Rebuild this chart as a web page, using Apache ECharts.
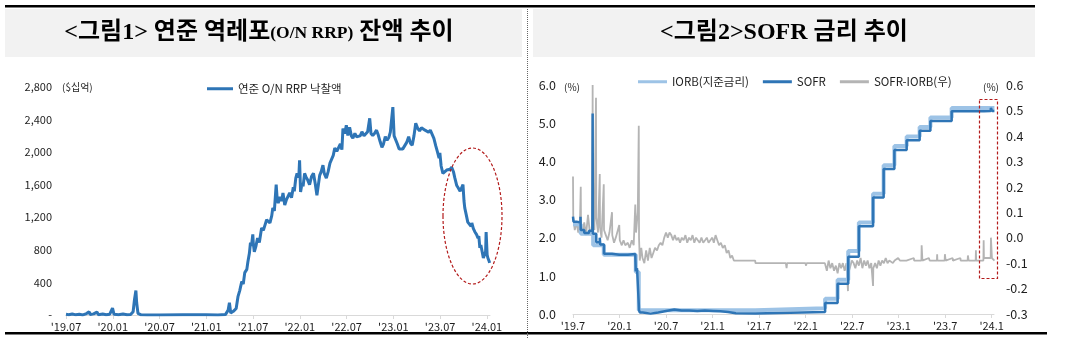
<!DOCTYPE html>
<html>
<head>
<meta charset="utf-8">
<script src="https://cdn.jsdelivr.net/npm/echarts@6/dist/echarts.min.js"></script>
<style>
  html, body { margin: 0; padding: 0; background: #fff; }
  #main { width: 1071px; height: 343px; }
</style>
</head>
<body>
<div id="main"></div>
<script>
// ---- Panel 1: Fed O/N RRP balance ($ billion) ----
const rrpTickLabels = ["'19.07", "'20.01", "'20.07", "'21.01", "'21.07", "'22.01", "'22.07", "'23.01", "'23.07", "'24.01"];
const rrp = [
  ['2019-07-01', 8], ['2019-07-12', 3], ['2019-07-26', 12], ['2019-08-09', 2], ['2019-08-23', 9],
  ['2019-09-06', 1], ['2019-09-20', 18], ['2019-09-30', 40], ['2019-10-04', 6], ['2019-10-18', 14],
  ['2019-10-31', 35], ['2019-11-06', 4], ['2019-11-22', 12], ['2019-12-06', 3], ['2019-12-20', 10],
  ['2019-12-31', 85], ['2020-01-06', 8], ['2020-01-24', 4], ['2020-02-10', 12], ['2020-02-25', 3],
  ['2020-03-10', 6], ['2020-03-20', 40], ['2020-03-25', 180], ['2020-03-31', 300], ['2020-04-03', 150],
  ['2020-04-08', 20], ['2020-04-20', 2], ['2020-05-15', 0], ['2020-07-01', 1], ['2020-09-30', 2],
  ['2020-12-31', 3], ['2021-02-15', 1], ['2021-03-15', 5], ['2021-03-26', 60], ['2021-03-31', 150],
  ['2021-04-05', 25], ['2021-04-15', 45], ['2021-04-26', 80], ['2021-05-03', 225], ['2021-05-10', 300],
  ['2021-05-18', 410], ['2021-05-24', 380], ['2021-05-30', 520], ['2021-06-07', 560], ['2021-06-11', 650],
  ['2021-06-17', 760], ['2021-06-21', 890], ['2021-06-25', 850], ['2021-06-30', 990], ['2021-07-02', 880],
  ['2021-07-06', 775], ['2021-07-12', 840], ['2021-07-19', 945], ['2021-07-26', 890], ['2021-08-04', 1070],
  ['2021-08-11', 1040], ['2021-08-18', 1110], ['2021-08-24', 1170], ['2021-08-31', 1190], ['2021-09-06', 1130],
  ['2021-09-13', 1220], ['2021-09-17', 1315], ['2021-09-23', 1280], ['2021-09-30', 1600], ['2021-10-04', 1420],
  ['2021-10-08', 1375], ['2021-10-15', 1450], ['2021-10-22', 1400], ['2021-10-27', 1500], ['2021-11-03', 1350],
  ['2021-11-10', 1420], ['2021-11-16', 1460], ['2021-11-22', 1500], ['2021-11-29', 1440], ['2021-12-06', 1570],
  ['2021-12-10', 1520], ['2021-12-16', 1680], ['2021-12-21', 1740], ['2021-12-28', 1690], ['2021-12-31', 1900],
  ['2022-01-04', 1510], ['2022-01-10', 1620], ['2022-01-14', 1580], ['2022-01-20', 1740], ['2022-01-26', 1690],
  ['2022-02-01', 1660], ['2022-02-08', 1600], ['2022-02-15', 1700], ['2022-02-22', 1740], ['2022-02-28', 1620],
  ['2022-03-07', 1470], ['2022-03-11', 1560], ['2022-03-18', 1715], ['2022-03-24', 1760], ['2022-03-31', 1840],
  ['2022-04-05', 1740], ['2022-04-13', 1680], ['2022-04-20', 1760], ['2022-04-27', 1865], ['2022-05-04', 1880],
  ['2022-05-10', 1960], ['2022-05-16', 2050], ['2022-05-24', 2010], ['2022-05-31', 2000], ['2022-06-07', 2100],
  ['2022-06-13', 2030], ['2022-06-17', 2290], ['2022-06-24', 2230], ['2022-06-30', 2330], ['2022-07-06', 2205],
  ['2022-07-13', 2305], ['2022-07-20', 2200], ['2022-07-26', 2170], ['2022-08-03', 2230], ['2022-08-10', 2190],
  ['2022-08-17', 2205], ['2022-08-24', 2200], ['2022-08-31', 2250], ['2022-09-08', 2200], ['2022-09-15', 2185],
  ['2022-09-22', 2250], ['2022-09-30', 2415], ['2022-10-05', 2230], ['2022-10-12', 2205], ['2022-10-19', 2230],
  ['2022-10-27', 2270], ['2022-11-03', 2210], ['2022-11-10', 2130], ['2022-11-17', 2060], ['2022-11-23', 2100],
  ['2022-11-30', 2190], ['2022-12-07', 2145], ['2022-12-14', 2180], ['2022-12-20', 2245], ['2022-12-30', 2554],
  ['2023-01-04', 2200], ['2023-01-10', 2185], ['2023-01-17', 2100], ['2023-01-24', 2040], ['2023-01-31', 2060],
  ['2023-02-07', 2040], ['2023-02-14', 2060], ['2023-02-21', 2120], ['2023-02-28', 2190], ['2023-03-07', 2110],
  ['2023-03-14', 2085], ['2023-03-21', 2200], ['2023-03-28', 2355], ['2023-03-31', 2375], ['2023-04-05', 2290],
  ['2023-04-12', 2260], ['2023-04-19', 2300], ['2023-04-26', 2305], ['2023-05-03', 2270], ['2023-05-10', 2250],
  ['2023-05-17', 2245], ['2023-05-24', 2270], ['2023-05-31', 2250], ['2023-06-07', 2170], ['2023-06-14', 2080],
  ['2023-06-21', 2000], ['2023-06-27', 1925], ['2023-06-30', 1990], ['2023-07-05', 1830], ['2023-07-12', 1740],
  ['2023-07-19', 1760], ['2023-07-27', 1780], ['2023-08-03', 1800], ['2023-08-10', 1790], ['2023-08-16', 1815],
  ['2023-08-23', 1760], ['2023-08-28', 1690], ['2023-09-05', 1590], ['2023-09-11', 1560], ['2023-09-18', 1520],
  ['2023-09-25', 1535], ['2023-09-29', 1600], ['2023-10-03', 1400], ['2023-10-06', 1315], ['2023-10-12', 1230],
  ['2023-10-18', 1140], ['2023-10-25', 1150], ['2023-10-31', 1090], ['2023-11-03', 1130], ['2023-11-09', 1060],
  ['2023-11-15', 1020], ['2023-11-21', 990], ['2023-11-27', 945], ['2023-11-30', 970], ['2023-12-04', 825],
  ['2023-12-08', 860], ['2023-12-13', 780], ['2023-12-18', 700], ['2023-12-22', 720], ['2023-12-27', 780],
  ['2023-12-29', 1020], ['2024-01-02', 740], ['2024-01-05', 700], ['2024-01-10', 660], ['2024-01-12', 640]
];

// ---- Panel 2: SOFR, IORB (%) and SOFR-IORB spread (%p, right axis) ----
const sofrTickLabels = ["'19.7", "'20.1", "'20.7", "'21.1", "'21.7", "'22.1", "'22.7", "'23.1", "'23.7", "'24.1"];
const iorb = [
  ['2019-07-01', 2.35], ['2019-08-01', 2.10], ['2019-09-19', 1.80], ['2019-10-31', 1.55], ['2020-03-04', 1.10],
  ['2020-03-16', 0.10], ['2021-06-17', 0.15], ['2022-03-17', 0.40], ['2022-05-05', 0.90], ['2022-06-16', 1.65],
  ['2022-07-28', 2.40], ['2022-09-22', 3.15], ['2022-11-03', 3.90], ['2022-12-15', 4.40], ['2023-02-02', 4.65],
  ['2023-03-23', 4.90], ['2023-05-04', 5.15], ['2023-07-27', 5.40], ['2024-01-12', 5.40]
];
const sofr = [
  ['2019-07-01', 2.55], ['2019-07-03', 2.42], ['2019-07-15', 2.40], ['2019-07-31', 2.55], ['2019-08-01', 2.20],
  ['2019-08-15', 2.12], ['2019-09-03', 2.18], ['2019-09-16', 2.43], ['2019-09-17', 5.25], ['2019-09-18', 2.10],
  ['2019-10-01', 1.88], ['2019-10-15', 2.00], ['2019-10-17', 1.82], ['2019-11-01', 1.58], ['2019-12-02', 1.55],
  ['2019-12-31', 1.60], ['2020-01-02', 1.55], ['2020-02-03', 1.57], ['2020-03-02', 1.60], ['2020-03-04', 1.12],
  ['2020-03-09', 1.20], ['2020-03-16', 0.26], ['2020-03-17', 0.10], ['2020-03-20', 0.04], ['2020-04-01', 0.01],
  ['2020-05-01', 0.04], ['2020-06-01', 0.08], ['2020-07-01', 0.12], ['2020-08-03', 0.09], ['2020-09-01', 0.09],
  ['2020-10-01', 0.08], ['2020-11-02', 0.09], ['2020-12-01', 0.08], ['2021-01-04', 0.07], ['2021-02-01', 0.05],
  ['2021-03-01', 0.02], ['2021-04-01', 0.01], ['2021-06-17', 0.05], ['2022-03-17', 0.29], ['2022-05-05', 0.79],
  ['2022-06-16', 1.50], ['2022-07-28', 2.30], ['2022-09-22', 3.05], ['2022-11-03', 3.80], ['2022-12-15', 4.30],
  ['2023-02-02', 4.55], ['2023-03-23', 4.80], ['2023-05-04', 5.06], ['2023-07-27', 5.31], ['2023-12-01', 5.32],
  ['2023-12-28', 5.31], ['2023-12-29', 5.40], ['2024-01-02', 5.32], ['2024-01-12', 5.31]
];
const spread = [
  ['2019-07-01', 0.24], ['2019-07-02', 0.08], ['2019-07-08', 0.03], ['2019-07-15', 0.06], ['2019-07-22', 0.02],
  ['2019-07-29', 0.07], ['2019-08-01', 0.20], ['2019-08-02', 0.05], ['2019-08-08', 0.02], ['2019-08-15', 0.06],
  ['2019-08-22', 0.01], ['2019-08-30', 0.09], ['2019-09-05', 0.03], ['2019-09-12', 0.01], ['2019-09-16', 0.08],
  ['2019-09-17', 0.60], ['2019-09-18', 0.10], ['2019-09-24', 0.03], ['2019-09-30', 0.55], ['2019-10-01', 0.08],
  ['2019-10-08', 0.02], ['2019-10-15', 0.25], ['2019-10-16', 0.04], ['2019-10-22', 0.00], ['2019-10-31', 0.21],
  ['2019-11-01', 0.03], ['2019-11-08', 0.01], ['2019-11-15', -0.01], ['2019-11-22', 0.02], ['2019-12-02', 0.10],
  ['2019-12-03', 0.01], ['2019-12-10', -0.02], ['2019-12-17', 0.00], ['2019-12-31', 0.05], ['2020-01-02', -0.01],
  ['2020-01-10', -0.03], ['2020-01-17', -0.01], ['2020-01-24', -0.03], ['2020-02-03', -0.02], ['2020-02-10', -0.04],
  ['2020-02-18', -0.01], ['2020-02-25', -0.03], ['2020-03-02', 0.13], ['2020-03-05', 0.02], ['2020-03-12', 0.10],
  ['2020-03-16', 0.44], ['2020-03-17', 0.00], ['2020-03-20', -0.09], ['2020-03-26', -0.04], ['2020-03-31', -0.08],
  ['2020-04-07', -0.10], ['2020-04-14', -0.05], ['2020-04-21', -0.09], ['2020-04-28', -0.04], ['2020-05-05', -0.08],
  ['2020-05-12', -0.06], ['2020-05-19', -0.04], ['2020-05-27', -0.05], ['2020-06-03', -0.03], ['2020-06-10', -0.02],
  ['2020-06-17', -0.03], ['2020-06-24', 0.00], ['2020-07-01', 0.02], ['2020-07-08', 0.00], ['2020-07-15', 0.02],
  ['2020-07-22', 0.01], ['2020-07-29', -0.01], ['2020-08-05', 0.01], ['2020-08-12', -0.01], ['2020-08-19', 0.00],
  ['2020-08-26', -0.02], ['2020-09-02', 0.00], ['2020-09-09', -0.01], ['2020-09-16', 0.01], ['2020-09-23', -0.02],
  ['2020-09-30', 0.00], ['2020-10-07', -0.01], ['2020-10-14', 0.01], ['2020-10-21', -0.02], ['2020-10-28', 0.00],
  ['2020-11-04', -0.01], ['2020-11-11', -0.02], ['2020-11-18', 0.00], ['2020-11-25', -0.02], ['2020-12-02', -0.01],
  ['2020-12-09', 0.00], ['2020-12-16', -0.02], ['2020-12-23', -0.01], ['2020-12-31', 0.00], ['2021-01-06', -0.02],
  ['2021-01-13', 0.01], ['2021-01-20', -0.01], ['2021-01-27', -0.03], ['2021-02-03', -0.02], ['2021-02-10', -0.04],
  ['2021-02-17', -0.03], ['2021-02-24', -0.06], ['2021-03-03', -0.05], ['2021-03-10', -0.08], ['2021-03-17', -0.07],
  ['2021-03-24', -0.09], ['2021-06-16', -0.09], ['2021-06-17', -0.10], ['2021-10-15', -0.10], ['2021-10-18', -0.12],
  ['2021-10-20', -0.10], ['2021-12-31', -0.10], ['2022-01-03', -0.11], ['2022-01-05', -0.10], ['2022-03-16', -0.10],
  ['2022-03-24', -0.13], ['2022-03-31', -0.09], ['2022-04-07', -0.12], ['2022-04-14', -0.10], ['2022-04-21', -0.13],
  ['2022-04-28', -0.11], ['2022-05-05', -0.14], ['2022-05-12', -0.10], ['2022-05-19', -0.12], ['2022-05-26', -0.10],
  ['2022-06-02', -0.13], ['2022-06-09', -0.10], ['2022-06-15', -0.21], ['2022-06-16', -0.14], ['2022-06-22', -0.12],
  ['2022-06-30', -0.09], ['2022-07-07', -0.10], ['2022-07-14', -0.12], ['2022-07-21', -0.09], ['2022-07-28', -0.11],
  ['2022-08-04', -0.08], ['2022-08-11', -0.12], ['2022-08-18', -0.09], ['2022-08-25', -0.11], ['2022-09-01', -0.09],
  ['2022-09-08', -0.12], ['2022-09-15', -0.10], ['2022-09-22', -0.19], ['2022-09-23', -0.12], ['2022-09-30', -0.10],
  ['2022-10-07', -0.12], ['2022-10-14', -0.09], ['2022-10-21', -0.11], ['2022-10-28', -0.09], ['2022-11-04', -0.10],
  ['2022-11-11', -0.08], ['2022-11-18', -0.10], ['2022-11-25', -0.09], ['2022-12-02', -0.09], ['2022-12-09', -0.10],
  ['2022-12-16', -0.09], ['2022-12-30', -0.08], ['2023-01-06', -0.09], ['2023-02-01', -0.09], ['2023-02-28', -0.08],
  ['2023-03-01', -0.09], ['2023-03-30', -0.09], ['2023-03-31', -0.03], ['2023-04-03', -0.09], ['2023-04-28', -0.08],
  ['2023-05-01', -0.09], ['2023-05-30', -0.09], ['2023-05-31', -0.065], ['2023-06-01', -0.09], ['2023-06-29', -0.09],
  ['2023-06-30', -0.065], ['2023-07-03', -0.09], ['2023-07-31', -0.08], ['2023-08-01', -0.09], ['2023-08-31', -0.08],
  ['2023-09-01', -0.09], ['2023-09-28', -0.09], ['2023-09-29', -0.07], ['2023-10-02', -0.09], ['2023-10-30', -0.09],
  ['2023-10-31', -0.05], ['2023-11-01', -0.09], ['2023-11-29', -0.09], ['2023-11-30', -0.01], ['2023-12-01', -0.08],
  ['2023-12-28', -0.08], ['2023-12-29', 0.00], ['2024-01-02', -0.08], ['2024-01-12', -0.09]
];

// date string -> months elapsed since 2019-07-01 (fractional)
function toMonths(s) {
  const [y, m, d] = s.split('-').map(Number);
  const dim = new Date(y, m, 0).getDate();
  return (y - 2019) * 12 + (m - 7) + (d - 1) / dim;
}
const toXY = arr => arr.map(([d, v]) => [toMonths(d), v]);
const tickPos = rrpTickLabels.map((_, i) => i * 6);

const FONT = "'Noto Sans CJK KR', 'Noto Sans', sans-serif";
const TITLE_FONT = "'Liberation Serif', 'Noto Sans CJK KR', serif";
const TXT = '#1e1e1e';
const AXIS_GRAY = '#d9d9d9';

function monthAxis(gridIndex, max, labels) {
  return {
    type: 'value', gridIndex, min: 0, max, interval: 6,
    axisLine: { show: true, lineStyle: { color: AXIS_GRAY, width: 1 } },
    axisTick: { show: true, length: 4, customValues: tickPos, lineStyle: { color: AXIS_GRAY } },
    axisLabel: {
      customValues: tickPos, margin: 6, fontSize: 11, color: TXT, fontFamily: FONT,
      formatter: v => { const i = Math.round(v / 6); return Math.abs(v - i * 6) < 1e-6 ? (labels[i] || '') : ''; }
    },
    splitLine: { show: false }
  };
}
const fmt1 = v => (Math.abs(v) < 1e-9 ? '0.0' : v.toFixed(1));

const option = {
  animation: false,
  backgroundColor: '#fff',
  grid: [
    { left: 66, top: 87, width: 424, height: 228 },
    { left: 573, top: 85, width: 421, height: 229 }
  ],
  xAxis: [
    monthAxis(0, 54.4, rrpTickLabels),
    monthAxis(1, 54.3, sofrTickLabels)
  ],
  yAxis: [
    {
      type: 'value', gridIndex: 0, min: 0, max: 2800, interval: 400,
      axisLine: { show: false }, axisTick: { show: false }, splitLine: { show: false },
      axisLabel: { margin: 14, fontSize: 11, color: TXT, fontFamily: FONT,
        formatter: v => (v === 0 ? '-' : v.toLocaleString('en-US')) }
    },
    {
      type: 'value', gridIndex: 1, position: 'left', min: 0, max: 6, interval: 1,
      axisLine: { show: false }, axisTick: { show: false }, splitLine: { show: false },
      axisLabel: { margin: 17, fontSize: 12.5, color: TXT, fontFamily: FONT, formatter: fmt1 }
    },
    {
      type: 'value', gridIndex: 1, position: 'right', min: -0.3, max: 0.6, interval: 0.1,
      axisLine: { show: false }, axisTick: { show: false }, splitLine: { show: false },
      axisLabel: { margin: 12, fontSize: 12.5, color: TXT, fontFamily: FONT, formatter: fmt1 }
    }
  ],
  legend: [
    {
      data: ['연준 O/N RRP 낙찰액'], left: 202, top: 78, icon: 'rect', itemWidth: 26, itemHeight: 3,
      textStyle: { fontSize: 11.5, color: TXT, fontFamily: FONT }
    },
    {
      data: ['IORB(지준금리)', 'SOFR', 'SOFR-IORB(우)'], left: 633, top: 71, icon: 'rect',
      itemWidth: 29, itemHeight: 3, itemGap: 14,
      textStyle: { fontSize: 11.5, color: TXT, fontFamily: FONT }
    }
  ],
  series: [
    {
      name: '연준 O/N RRP 낙찰액', type: 'line', xAxisIndex: 0, yAxisIndex: 0,
      data: toXY(rrp), showSymbol: false, symbol: 'none',
      lineStyle: { width: 3, color: '#2e75b6' }, itemStyle: { color: '#2e75b6' }
    },
    {
      name: 'SOFR-IORB(우)', type: 'line', xAxisIndex: 1, yAxisIndex: 2,
      data: toXY(spread), showSymbol: false, symbol: 'none',
      lineStyle: { width: 1.8, color: '#b4b4b4' }, itemStyle: { color: '#b4b4b4' }
    },
    {
      name: 'IORB(지준금리)', type: 'line', step: 'end', xAxisIndex: 1, yAxisIndex: 1,
      data: toXY(iorb), showSymbol: false, symbol: 'none',
      lineStyle: { width: 4, color: '#9dc3e6' }, itemStyle: { color: '#9dc3e6' }
    },
    {
      name: 'SOFR', type: 'line', step: 'end', xAxisIndex: 1, yAxisIndex: 1,
      data: toXY(sofr), showSymbol: false, symbol: 'none',
      lineStyle: { width: 2.5, color: '#2e75b6' }, itemStyle: { color: '#2e75b6' }
    }
  ],
  graphic: [
    // header rules and boxes
    { type: 'rect', z: -1, shape: { x: 5, y: 5, width: 1030, height: 2.5 }, style: { fill: '#000' } },
    { type: 'rect', z: -1, shape: { x: 5, y: 9, width: 517, height: 48 }, style: { fill: '#f2f2f2' } },
    { type: 'rect', z: -1, shape: { x: 533, y: 9, width: 502, height: 48 }, style: { fill: '#f2f2f2' } },
    { type: 'rect', z: -1, shape: { x: 5, y: 332, width: 1042, height: 2.5 }, style: { fill: '#000' } },
    { type: 'line', z: 1, shape: { x1: 527.5, y1: 9, x2: 527.5, y2: 338 },
      style: { stroke: '#666', lineWidth: 1, lineDash: [1, 1] } },
    {
      type: 'text', z: 10, x: 259, y: 33,
      style: {
        text: '{a|<그림1> 연준 역레포}{b|(O/N RRP)}{a| 잔액 추이}',
        align: 'center', verticalAlign: 'middle',
        rich: {
          a: { fontFamily: TITLE_FONT, fontWeight: 'bold', fontSize: 24, fill: '#000' },
          b: { fontFamily: TITLE_FONT, fontWeight: 'bold', fontSize: 17.5, fill: '#000' }
        }
      }
    },
    {
      type: 'text', z: 10, x: 784, y: 33,
      style: {
        text: '<그림2>SOFR 금리 추이', align: 'center', verticalAlign: 'middle',
        fontFamily: TITLE_FONT, fontWeight: 'bold', fontSize: 24, fill: '#000'
      }
    },
    // unit labels
    { type: 'text', z: 10, x: 62, y: 87, style: { text: '($십억)', fontSize: 10, fontFamily: FONT, fill: TXT, verticalAlign: 'middle' } },
    { type: 'text', z: 10, x: 564, y: 87, style: { text: '(%)', fontSize: 10, fontFamily: FONT, fill: TXT, verticalAlign: 'middle' } },
    { type: 'text', z: 10, x: 983, y: 87, style: { text: '(%)', fontSize: 10, fontFamily: FONT, fill: TXT, verticalAlign: 'middle' } },
    // highlight marks
    { type: 'ellipse', z: 100, shape: { cx: 472.5, cy: 216, rx: 29.5, ry: 68 },
      style: { fill: 'none', stroke: '#b31b1b', lineWidth: 1.2, lineDash: [3, 2] } },
    { type: 'rect', z: 100, shape: { x: 979.5, y: 99.5, width: 18, height: 179 },
      style: { fill: 'none', stroke: '#b31b1b', lineWidth: 1.2, lineDash: [3, 2] } }
  ]
};

const chart = echarts.init(document.getElementById('main'), null, { renderer: 'canvas' });
chart.setOption(option);
</script>
</body>
</html>
